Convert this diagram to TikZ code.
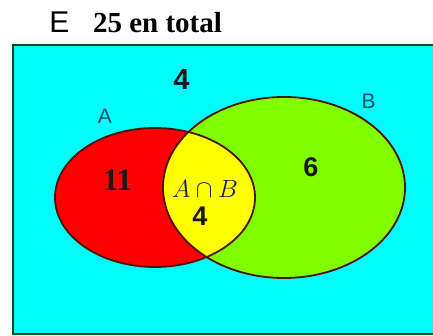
\documentclass[tikz,border=0pt]{standalone}
\usepackage{fontspec}
\setmainfont{Liberation Serif}
\setsansfont{Liberation Sans}
\definecolor{cyanbg}{RGB}{0,252,252}
\definecolor{rectborder}{RGB}{20,70,45}
\definecolor{redA}{RGB}{255,0,0}
\definecolor{greenB}{RGB}{128,255,0}
\definecolor{yellowAB}{RGB}{255,255,0}
\definecolor{outlinec}{RGB}{80,20,5}
\definecolor{setlabel}{RGB}{20,85,100}
\definecolor{mathc}{RGB}{30,30,80}
\tikzset{
  ellipseline/.style={draw=outlinec, line width=1.8pt},
  txt/.style={inner sep=0pt, anchor=center},
  numsans/.style={txt, font=\sffamily\bfseries\fontsize{27}{29}\selectfont, text=black!90},
  numserif/.style={txt, font=\rmfamily\bfseries\fontsize{31}{33}\selectfont, text=black!90},
  setname/.style={txt, font=\sffamily\fontsize{21}{23}\selectfont, text=setlabel}
}
\begin{document}
\begin{tikzpicture}[x=1pt,y=-1pt]
\useasboundingbox (0,0) rectangle (433,336);
\fill[white] (0,0) rectangle (433,336);
% universe rectangle
\draw[fill=cyanbg, draw=rectborder, line width=1.6pt] (13,45) rectangle (445,334);
% sets
\fill[redA] (155,197.5) ellipse [x radius=100, y radius=69.5];
\fill[greenB] (284,187.5) ellipse [x radius=121, y radius=90.5];
\begin{scope}
  \clip (155,197.5) ellipse [x radius=100, y radius=69.5];
  \fill[yellowAB] (284,187.5) ellipse [x radius=121, y radius=90.5];
\end{scope}
\draw[ellipseline] (155,197.5) ellipse [x radius=100, y radius=69.5];
\draw[ellipseline] (284,187.5) ellipse [x radius=121, y radius=90.5];
% title
\node[txt, font=\sffamily\fontsize{30}{32}\selectfont] (E) at (59.5,22) {E};
\node[txt, font=\rmfamily\bfseries\fontsize{29}{31}\selectfont] (total) at (157.5,22.5) {25 en total};
% labels
\node[setname] (labA) at (105,116) {A};
\node[setname] (labB) at (368.5,101) {B};
\node[numsans, font=\sffamily\bfseries\fontsize{29}{31}\selectfont] (outside) at (181.5,79.5) {4};
\node[numserif] (onlyA) at (117.5,180) {11};
\node[numsans] (onlyB) at (311,167.5) {6};
\node[txt, text=mathc, font=\fontsize{25}{27}\selectfont] (inter) at (205,189) {$A\cap B$};
\node[numsans] (both) at (200,216) {4};
\end{tikzpicture}
\end{document}
